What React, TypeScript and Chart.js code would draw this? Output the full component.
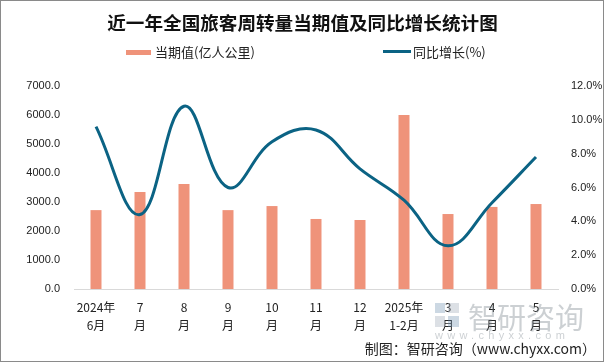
import React, { useEffect, useRef } from "react";
import { Chart, registerables } from "chart.js";

Chart.register(...registerables);

const categories: string[][] = [
  ["2024年", "6月"], ["7", "月"], ["8", "月"], ["9", "月"], ["10", "月"], ["11", "月"],
  ["12", "月"], ["2025年", "1-2月"], ["3", "月"], ["4", "月"], ["5", "月"],
];
const volumeValues: number[] = [2720, 3345, 3620, 2720, 2860, 2415, 2380, 6000, 2585, 2830, 2930];
const growthValues: number[] = [9.6, 4.4, 10.8, 6.0, 8.7, 9.4, 7.1, 5.25, 2.55, 5.1, 7.8];
const leftTicks = { min: 0, max: 7000, step: 1000 };
const rightTicks = { min: 0, max: 12, step: 2 };

const BAR_COLOR = "#EF937A";
const LINE_COLOR = "#0B6384";
const CJK = '"Noto Sans CJK SC", "Noto Sans", sans-serif';
const NUM = '"Liberation Sans", Arial, sans-serif';

export default function App() {
  const ref = useRef<HTMLCanvasElement | null>(null);

  useEffect(() => {
    if (!ref.current) return;
    const chart = new Chart(ref.current, {
      type: "bar",
      data: {
        labels: categories,
        datasets: [
          {
            type: "line",
            label: "同比增长(%)",
            data: growthValues,
            yAxisID: "y1",
            borderColor: LINE_COLOR,
            backgroundColor: LINE_COLOR,
            borderWidth: 3,
            pointRadius: 0,
            tension: 0.4,
            order: 0,
          } as any,
          {
            type: "bar",
            label: "当期值(亿人公里)",
            data: volumeValues,
            yAxisID: "y",
            backgroundColor: BAR_COLOR,
            barPercentage: 0.25,
            categoryPercentage: 1,
            order: 1,
          },
        ],
      },
      options: {
        animation: false,
        responsive: false,
        maintainAspectRatio: false,
        layout: { padding: { top: 86, left: 0, right: 0, bottom: 0 } },
        plugins: { legend: { display: false }, title: { display: false }, tooltip: { enabled: false } },
        scales: {
          x: {
            grid: { display: false, drawTicks: false },
            border: { display: true, color: "#D9D9D9", width: 1 },
            ticks: {
              font: { family: CJK, size: 12, lineHeight: 1.5 },
              color: "#222",
              padding: 9,
              maxRotation: 0,
              autoSkip: false,
            },
            afterFit: (s: any) => { s.height = 74; },
          },
          y: {
            position: "left",
            min: leftTicks.min,
            max: leftTicks.max,
            grid: { display: false, drawTicks: false },
            border: { display: false },
            ticks: {
              stepSize: leftTicks.step,
              font: { family: NUM, size: 11 },
              color: "#222",
              padding: 14,
              callback: (v: any) => Number(v).toFixed(1),
            },
            afterFit: (s: any) => { s.width = 74; },
          },
          y1: {
            position: "right",
            min: rightTicks.min,
            max: rightTicks.max,
            grid: { display: false, drawTicks: false },
            border: { display: false },
            ticks: {
              stepSize: rightTicks.step,
              font: { family: NUM, size: 11 },
              color: "#222",
              padding: 13,
              callback: (v: any) => Number(v).toFixed(1) + "%",
            },
            afterFit: (s: any) => { s.width = 47; },
          },
        },
      },
    });
    return () => chart.destroy();
  }, []);

  return (
    <div style={{ position: "fixed", left: 0, top: 0, width: 605, height: 363, background: "#fff", overflow: "hidden" }}>
      <canvas ref={ref} width={605} height={363} style={{ position: "absolute", left: 0, top: 0, width: 605, height: 363 }} />
      <div style={{ position: "absolute", left: 0, top: 0, width: 602, height: 360, border: "1px solid #8a8a8a", pointerEvents: "none" }} />
      <div style={{ position: "absolute", left: 0, top: 10, width: 605, textAlign: "center", fontFamily: CJK, fontWeight: 700, fontSize: 18.6, lineHeight: "24px", color: "#111" }}>
        近一年全国旅客周转量当期值及同比增长统计图
      </div>
      <div style={{ position: "absolute", left: 126, top: 50, width: 25, height: 5, background: BAR_COLOR }} />
      <div style={{ position: "absolute", left: 155, top: 43, fontFamily: CJK, fontSize: 13, lineHeight: "18px", color: "#222", whiteSpace: "nowrap" }}>当期值(亿人公里)</div>
      <div style={{ position: "absolute", left: 383, top: 50, width: 28, height: 3, background: LINE_COLOR }} />
      <div style={{ position: "absolute", left: 413, top: 43, fontFamily: CJK, fontSize: 13, lineHeight: "18px", color: "#222", whiteSpace: "nowrap" }}>同比增长(%)</div>
      {/* watermark */}
      <div style={{ position: "absolute", left: 435, top: 303, width: 24, height: 24, opacity: 0.35, pointerEvents: "none" }}>
        <div style={{ position: "absolute", left: 0, top: 0, width: 10, height: 10, background: "#6d8fb0" }} />
        <div style={{ position: "absolute", left: 13, top: 0, width: 11, height: 10, background: "#9aa7b4" }} />
        <div style={{ position: "absolute", left: 0, top: 13, width: 10, height: 11, background: "#9aa7b4" }} />
        <div style={{ position: "absolute", left: 13, top: 13, width: 11, height: 11, background: "#6d8fb0" }} />
      </div>
      <div style={{ position: "absolute", left: 468, top: 298, fontFamily: CJK, fontSize: 29, lineHeight: "36px", color: "rgba(110,120,130,0.35)", whiteSpace: "nowrap", pointerEvents: "none" }}>智研咨询</div>
      <div style={{ position: "absolute", left: 435, top: 329, width: 152, fontFamily: NUM, fontSize: 11, lineHeight: "13px", letterSpacing: "4.3px", color: "rgba(110,120,130,0.35)", whiteSpace: "nowrap", pointerEvents: "none" }}>www.chyxx.com</div>
      <div style={{ position: "absolute", right: 9, top: 338, fontFamily: CJK, fontSize: 14, lineHeight: "20px", color: "#222", whiteSpace: "nowrap" }}>制图：智研咨询（www.chyxx.com）</div>
    </div>
  );
}
